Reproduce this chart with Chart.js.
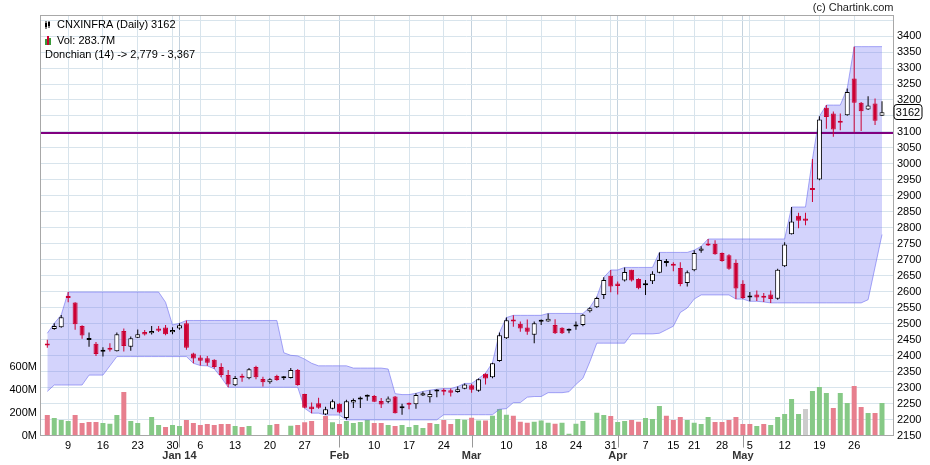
<!DOCTYPE html>
<html>
<head>
<meta charset="utf-8">
<script src="https://cdn.jsdelivr.net/npm/chart.js@4.4.1/dist/chart.umd.min.js"></script>
<style>
  html, body { margin: 0; padding: 0; background: #fff; }
  #wrap { width: 930px; height: 465px; }
</style>
</head>
<body>
<div id="wrap"><canvas id="chart" width="930" height="465"></canvas></div>
<script>
const symbol = "CNXINFRA";

// daily OHLC, one entry per trading day (Dec 2013 - May 2014)
const open = [
  2435, 2483, 2489, 2585, 2566, 2493, 2449, 2437, 2412, 2424,
  2414, 2477, 2428, 2456, 2474, 2470, 2485, 2488, 2473, 2485,
  2501, 2407, 2394, 2392, 2387, 2364, 2339, 2307, 2333, 2329,
  2364, 2327, 2317, 2336, 2329, 2330, 2355, 2280, 2241, 2251,
  2216, 2234, 2249, 2205, 2253, 2263, 2271, 2274, 2258, 2256,
  2272, 2235, 2248, 2248, 2275, 2270, 2288, 2289, 2292, 2286,
  2296, 2307, 2290, 2343, 2332, 2383, 2454, 2512, 2500, 2488,
  2465, 2506, 2507, 2496, 2487, 2478, 2491, 2496, 2539, 2551,
  2590, 2650, 2626, 2635, 2669, 2640, 2620, 2633, 2659, 2690,
  2687, 2674, 2627, 2667, 2728, 2750, 2750, 2721, 2714, 2691,
  2625, 2582, 2591, 2582, 2591, 2578, 2680, 2780, 2838, 2829,
  2923, 2951, 3176, 3158, 3135, 3152, 3267, 3191, 3170, 3189, 3151
];
const high = [
  2450, 2501, 2527, 2599, 2567, 2495, 2472, 2443, 2426, 2439,
  2472, 2485, 2460, 2482, 2480, 2493, 2493, 2496, 2489, 2501,
  2510, 2409, 2401, 2399, 2389, 2376, 2355, 2336, 2343, 2361,
  2368, 2334, 2329, 2340, 2336, 2361, 2358, 2281, 2253, 2268,
  2240, 2263, 2251, 2262, 2266, 2272, 2278, 2277, 2267, 2272,
  2274, 2249, 2253, 2282, 2288, 2292, 2295, 2297, 2297, 2303,
  2313, 2311, 2328, 2345, 2378, 2472, 2519, 2526, 2507, 2513,
  2507, 2513, 2532, 2514, 2489, 2485, 2507, 2530, 2551, 2584,
  2645, 2668, 2632, 2676, 2669, 2642, 2637, 2664, 2723, 2702,
  2692, 2692, 2666, 2730, 2742, 2765, 2761, 2723, 2717, 2701,
  2636, 2599, 2604, 2596, 2604, 2672, 2755, 2865, 2847, 2847,
  3015, 3149, 3184, 3164, 3158, 3236, 3367, 3194, 3212, 3205, 3196
];
const low = [
  2425, 2481, 2487, 2567, 2481, 2453, 2428, 2399, 2397, 2413,
  2413, 2413, 2415, 2455, 2463, 2466, 2474, 2464, 2467, 2481,
  2418, 2376, 2369, 2368, 2359, 2332, 2301, 2305, 2318, 2326,
  2326, 2303, 2312, 2321, 2324, 2328, 2306, 2235, 2220, 2234,
  2214, 2232, 2220, 2199, 2236, 2236, 2259, 2255, 2236, 2251,
  2219, 2215, 2232, 2234, 2274, 2253, 2270, 2276, 2272, 2284,
  2295, 2284, 2287, 2310, 2329, 2381, 2452, 2490, 2475, 2465,
  2439, 2496, 2506, 2468, 2468, 2470, 2481, 2492, 2535, 2549,
  2577, 2598, 2591, 2632, 2632, 2608, 2590, 2624, 2658, 2679,
  2664, 2617, 2616, 2664, 2722, 2743, 2716, 2694, 2669, 2577,
  2577, 2570, 2571, 2568, 2565, 2575, 2677, 2779, 2799, 2808,
  2881, 2949, 3110, 3085, 3105, 3151, 3099, 3103, 3169, 3122, 3150
];
const close = [
  2432, 2493, 2520, 2580, 2498, 2463, 2450, 2405, 2413, 2418,
  2467, 2430, 2454, 2467, 2466, 2477, 2478, 2467, 2480, 2495,
  2425, 2391, 2384, 2378, 2364, 2339, 2310, 2330, 2331, 2357,
  2332, 2317, 2326, 2324, 2330, 2355, 2308, 2237, 2232, 2237,
  2232, 2257, 2222, 2257, 2261, 2264, 2272, 2256, 2247, 2266,
  2220, 2236, 2246, 2277, 2282, 2280, 2289, 2287, 2284, 2295,
  2310, 2293, 2326, 2328, 2376, 2464, 2511, 2507, 2485, 2475,
  2501, 2507, 2515, 2470, 2470, 2479, 2492, 2528, 2548, 2580,
  2637, 2616, 2618, 2662, 2635, 2611, 2626, 2656, 2699, 2691,
  2681, 2624, 2661, 2721, 2735, 2745, 2717, 2696, 2672, 2610,
  2580, 2583, 2582, 2581, 2577, 2669, 2748, 2820, 2822, 2822,
  2918, 3139, 3147, 3108, 3129, 3225, 3191, 3165, 3183, 3135, 3162
];

// volume in millions (null = no bar shown)
const volume = [
  179, 153, 135, 127, 179, 109, 118, 118, 109, 103,
  179, 380, 127, 109, null, 162, 92, 74, 92, 83,
  135, 109, 92, 100, 92, 100, 100, 83, 74, 83,
  null, null, 92, 100, null, 86, 92, 115, 127, null,
  170, 115, 100, 127, 109, 118, 135, 109, 109, 92,
  83, 92, 74, 92, 65, 109, 100, 135, 100, 144,
  138, 156, 130, 130, 173, 231, 182, 173, 121, 112,
  121, 130, 112, 103, 112, 16, 103, 127, null, 199,
  179, 170, 118, 127, 135, 121, 153, 144, 258, 173,
  135, 162, 135, 112, 100, 161, 118, 118, 135, 161,
  100, 100, 83, 100, 92, 161, 188, 319, 188, 231,
  388, 423, 371, 240, 371, 284, 432, 249, 196, 196, 283.7
];
// g = up day, r = down day, n = unchanged
const volumeTone = (
  "rgggrrrrgg" + "grgg-ggrgg" + "rrrrrrrgrg" + "--gr-grrr-" +
  "rgrggggrrg" + "rggggrgrrg" + "grgrgggrrr" + "gggrgggg-g" +
  "grggrrgggr" + "rrggggrrrr" + "rrgrgggggn" + "gggrggrrgrg"
).split("");

// Donchian (14) channel
const donchianUpper = [
  2470, 2501, 2527, 2599, 2599, 2599, 2599, 2599, 2599, 2599,
  2599, 2599, 2599, 2599, 2599, 2599, 2599, 2567, 2496, 2501,
  2510, 2510, 2510, 2510, 2510, 2510, 2510, 2510, 2510, 2510,
  2510, 2510, 2510, 2510, 2409, 2401, 2399, 2389, 2376, 2368,
  2368, 2368, 2368, 2368, 2361, 2361, 2361, 2361, 2361, 2358,
  2281, 2278, 2278, 2282, 2288, 2292, 2295, 2297, 2297, 2303,
  2313, 2313, 2328, 2345, 2378, 2472, 2519, 2526, 2526, 2526,
  2526, 2526, 2532, 2532, 2532, 2532, 2532, 2532, 2551, 2584,
  2645, 2668, 2668, 2676, 2676, 2676, 2676, 2676, 2723, 2723,
  2723, 2723, 2723, 2730, 2742, 2765, 2765, 2765, 2765, 2765,
  2765, 2765, 2765, 2765, 2765, 2765, 2765, 2865, 2865, 2865,
  3015, 3149, 3184, 3184, 3184, 3236, 3367, 3367, 3367, 3367, 3367
];
const donchianLower = [
  2288, 2308, 2308, 2308, 2308, 2308, 2339, 2339, 2339, 2368,
  2397, 2397, 2397, 2397, 2397, 2397, 2397, 2397, 2397, 2397,
  2397, 2376, 2369, 2368, 2359, 2332, 2301, 2301, 2301, 2301,
  2301, 2301, 2301, 2301, 2301, 2301, 2301, 2235, 2220, 2220,
  2214, 2214, 2214, 2199, 2199, 2199, 2199, 2199, 2199, 2199,
  2199, 2199, 2199, 2199, 2199, 2199, 2199, 2215, 2215, 2215,
  2215, 2215, 2215, 2215, 2215, 2232, 2234, 2253, 2253, 2270,
  2272, 2272, 2284, 2284, 2284, 2287, 2310, 2329, 2381, 2439,
  2439, 2439, 2439, 2439, 2468, 2468, 2468, 2468, 2470, 2481,
  2492, 2535, 2549, 2577, 2590, 2590, 2590, 2590, 2590, 2577,
  2577, 2570, 2570, 2568, 2565, 2565, 2565, 2565, 2565, 2565,
  2565, 2565, 2565, 2565, 2565, 2565, 2565, 2565, 2575, 2677, 2779
];

const refLevel = 3097;

// x-axis: day labels and month dividers (by trading-day index)
const dayTicks = [3, 8, 13, 18, 22, 27, 32, 37, 47, 52, 57, 66, 71, 76, 81, 86, 90, 93, 97, 101, 106, 111, 116];
const dayLabels = ["9", "16", "23", "30", "6", "13", "20", "27", "10", "17", "24", "10", "18", "24", "31", "7", "15", "21", "28", "5", "12", "19", "26"];
const monthTicks = [19, 42, 61, 82, 100];
const monthLabels = ["Jan 14", "Feb", "Mar", "Apr", "May"];
const volumeTicks = [0, 200, 400, 600];

const RED = "#cc0033";
const GRID = "rgb(216,228,236)";
const FRAME = "#a8a8a8";
const toneColor = { g: "#86c986", r: "#e77f8e", n: "#cccccc" };

const idx = open.map((_, i) => i);
const last = close.length - 1;
const isUp = (i) => close[i] >= open[i];

Chart.defaults.font.family = '"Liberation Sans", Arial, sans-serif';
Chart.defaults.font.size = 11;
Chart.defaults.color = "#000";

const frameAndText = {
  id: "frameAndText",
  afterDatasetDraw(chart, args) {
    if (chart.data.datasets[args.index].label !== "Donchian lower") return;
    const { ctx, chartArea } = chart;
    const y = chart.scales.y.getPixelForValue(refLevel);
    ctx.save();
    ctx.strokeStyle = "#800080";
    ctx.lineWidth = 2;
    ctx.beginPath();
    ctx.moveTo(chartArea.left, y);
    ctx.lineTo(chartArea.right, y);
    ctx.stroke();
    ctx.restore();
  },
  afterDraw(chart) {
    const { ctx, chartArea } = chart;
    const l = Math.floor(chartArea.left) + 0.5;
    const t = Math.floor(chartArea.top) + 0.5;
    const r = Math.floor(chartArea.right) + 0.5;
    const b = Math.floor(chartArea.bottom) + 0.5;
    ctx.save();
    ctx.strokeStyle = FRAME;
    ctx.lineWidth = 1;
    ctx.strokeRect(l, t, r - l, b - t);

    // month divider ticks below the axis
    ctx.strokeStyle = "#999";
    monthTicks.forEach((m) => {
      const x = Math.round(chart.scales.x.getPixelForValue(m)) + 0.5;
      ctx.beginPath();
      ctx.moveTo(x, b);
      ctx.lineTo(x, b + 12);
      ctx.stroke();
    });

    // copyright
    ctx.font = '11px "Liberation Sans", Arial, sans-serif';
    ctx.fillStyle = "#222";
    ctx.textAlign = "right";
    ctx.textBaseline = "middle";
    ctx.fillText("(c) Chartink.com", r, 8);

    // legend lines
    ctx.textAlign = "left";
    // candle icon
    ctx.fillStyle = "#000";
    ctx.fillRect(45, 23, 2, 4);
    ctx.fillRect(45.5, 21, 1, 8);
    ctx.fillRect(48, 22, 2, 4);
    ctx.fillRect(48.5, 21, 1, 7);
    ctx.fillText(symbol + " (Daily) " + close[last], 57, 25);
    // volume icon
    ctx.fillStyle = "#3a9a3a";
    ctx.fillRect(45, 39, 2, 6);
    ctx.fillStyle = "#cc0033";
    ctx.fillRect(47, 36, 2, 9);
    ctx.fillStyle = "#3a9a3a";
    ctx.fillRect(49, 38, 2, 7);
    ctx.fillStyle = "#000";
    ctx.fillText("Vol: " + volume[last] + "M", 57, 40.5);
    const fmt = (v) => v.toLocaleString("en-US");
    ctx.fillText("Donchian (14) -> " + fmt(donchianLower[last]) + " - " + fmt(donchianUpper[last]), 45, 54.5);

    // last price box on the price axis
    const yp = Math.round(chart.scales.y.getPixelForValue(close[last]));
    ctx.beginPath();
    ctx.roundRect(r + 0.5, yp - 7.5, 28, 15, 3);
    ctx.fillStyle = "#fff";
    ctx.fill();
    ctx.strokeStyle = "#000";
    ctx.stroke();
    ctx.fillStyle = "#000";
    ctx.textAlign = "center";
    ctx.fillText(String(close[last]), r + 14.5, yp + 0.5);
    ctx.restore();
  }
};

new Chart(document.getElementById("chart"), {
  type: "bar",
  data: {
    datasets: [
      {
        type: "bar",
        label: "Body",
        data: idx.map((i) => ({ x: i, y: [open[i], close[i]] })),
        backgroundColor: idx.map((i) => (isUp(i) ? "#fff" : RED)),
        borderColor: idx.map((i) => (isUp(i) ? "#000" : RED)),
        borderWidth: 1,
        borderSkipped: false,
        barThickness: 5,
        minBarLength: 2,
        inflateAmount: 0,
        grouped: false,
        yAxisID: "y",
        order: 0,
      },
      {
        type: "bar",
        label: "Wick",
        data: idx.map((i) => ({ x: i, y: [low[i], high[i]] })),
        backgroundColor: idx.map((i) => (isUp(i) ? "#000" : RED)),
        borderWidth: 0,
        barThickness: 1,
        inflateAmount: 0,
        grouped: false,
        yAxisID: "y",
        order: 1,
      },
      {
        type: "line",
        label: "Donchian upper",
        data: idx.map((i) => ({ x: i, y: donchianUpper[i] })),
        borderColor: "rgba(110,110,240,0.6)",
        backgroundColor: "rgba(110,110,245,0.3)",
        borderWidth: 1,
        pointRadius: 0,
        tension: 0,
        fill: "+1",
        yAxisID: "y",
        order: 6,
      },
      {
        type: "line",
        label: "Donchian lower",
        data: idx.map((i) => ({ x: i, y: donchianLower[i] })),
        borderColor: "rgba(110,110,240,0.6)",
        borderWidth: 1,
        pointRadius: 0,
        tension: 0,
        fill: false,
        yAxisID: "y",
        order: 5,
      },
      {
        type: "bar",
        label: "Volume",
        data: idx.filter((i) => volume[i] != null).map((i) => ({ x: i, y: volume[i] })),
        backgroundColor: (c) => toneColor[volumeTone[c.raw.x]] || toneColor.n,
        borderWidth: 0,
        barThickness: 5,
        inflateAmount: 0,
        grouped: false,
        yAxisID: "v",
        order: 10,
      },
    ],
  },
  options: {
    responsive: false,
    animation: false,
    layout: { padding: { top: 15, left: 0, right: 0, bottom: 0 } },
    scales: {
      x: {
        type: "linear",
        min: -1.05,
        max: 121.58,
        offset: false,
        afterBuildTicks: (scale) => {
          scale.ticks = dayTicks.concat(monthTicks).sort((a, b) => a - b).map((v) => ({ value: v }));
        },
        afterFit: (scale) => { scale.height = 29.5; },
        border: { display: false },
        grid: {
          offset: false,
          drawTicks: false,
          color: (c) => (c.tick && monthTicks.includes(c.tick.value) ? "rgb(196,210,222)" : GRID),
        },
        ticks: {
          autoSkip: false,
          maxRotation: 0,
          padding: 5,
          callback: (v) => {
            const m = monthTicks.indexOf(v);
            if (m >= 0) return ["", monthLabels[m]];
            const d = dayTicks.indexOf(v);
            return d >= 0 ? dayLabels[d] : "";
          },
          font: (c) => ({
            size: 11,
            weight: c.tick && monthTicks.includes(c.tick.value) ? "bold" : "normal",
            lineHeight: 0.91,
          }),
          color: (c) => (c.tick && monthTicks.includes(c.tick.value) ? "#333" : "#000"),
        },
      },
      y: {
        type: "linear",
        axis: "y",
        position: "right",
        min: 2150,
        max: 3466,
        afterFit: (scale) => { scale.width = 37; },
        border: { display: false },
        grid: { color: GRID, drawTicks: false },
        ticks: {
          stepSize: 50,
          autoSkip: false,
          includeBounds: false,
          padding: 4,
          callback: (v) => (v <= 3400 ? String(v) : ""),
        },
      },
      v: {
        type: "linear",
        axis: "y",
        position: "left",
        min: 0,
        max: 3672,
        afterBuildTicks: (scale) => {
          scale.ticks = volumeTicks.map((v) => ({ value: v }));
        },
        afterFit: (scale) => { scale.width = 40; },
        border: { display: false },
        grid: { display: false, drawTicks: false },
        ticks: {
          autoSkip: false,
          padding: 3,
          callback: (v) => v + "M",
        },
      },
    },
    plugins: {
      legend: { display: false },
      tooltip: { enabled: false },
    },
  },
  plugins: [frameAndText],
});
</script>
</body>
</html>
